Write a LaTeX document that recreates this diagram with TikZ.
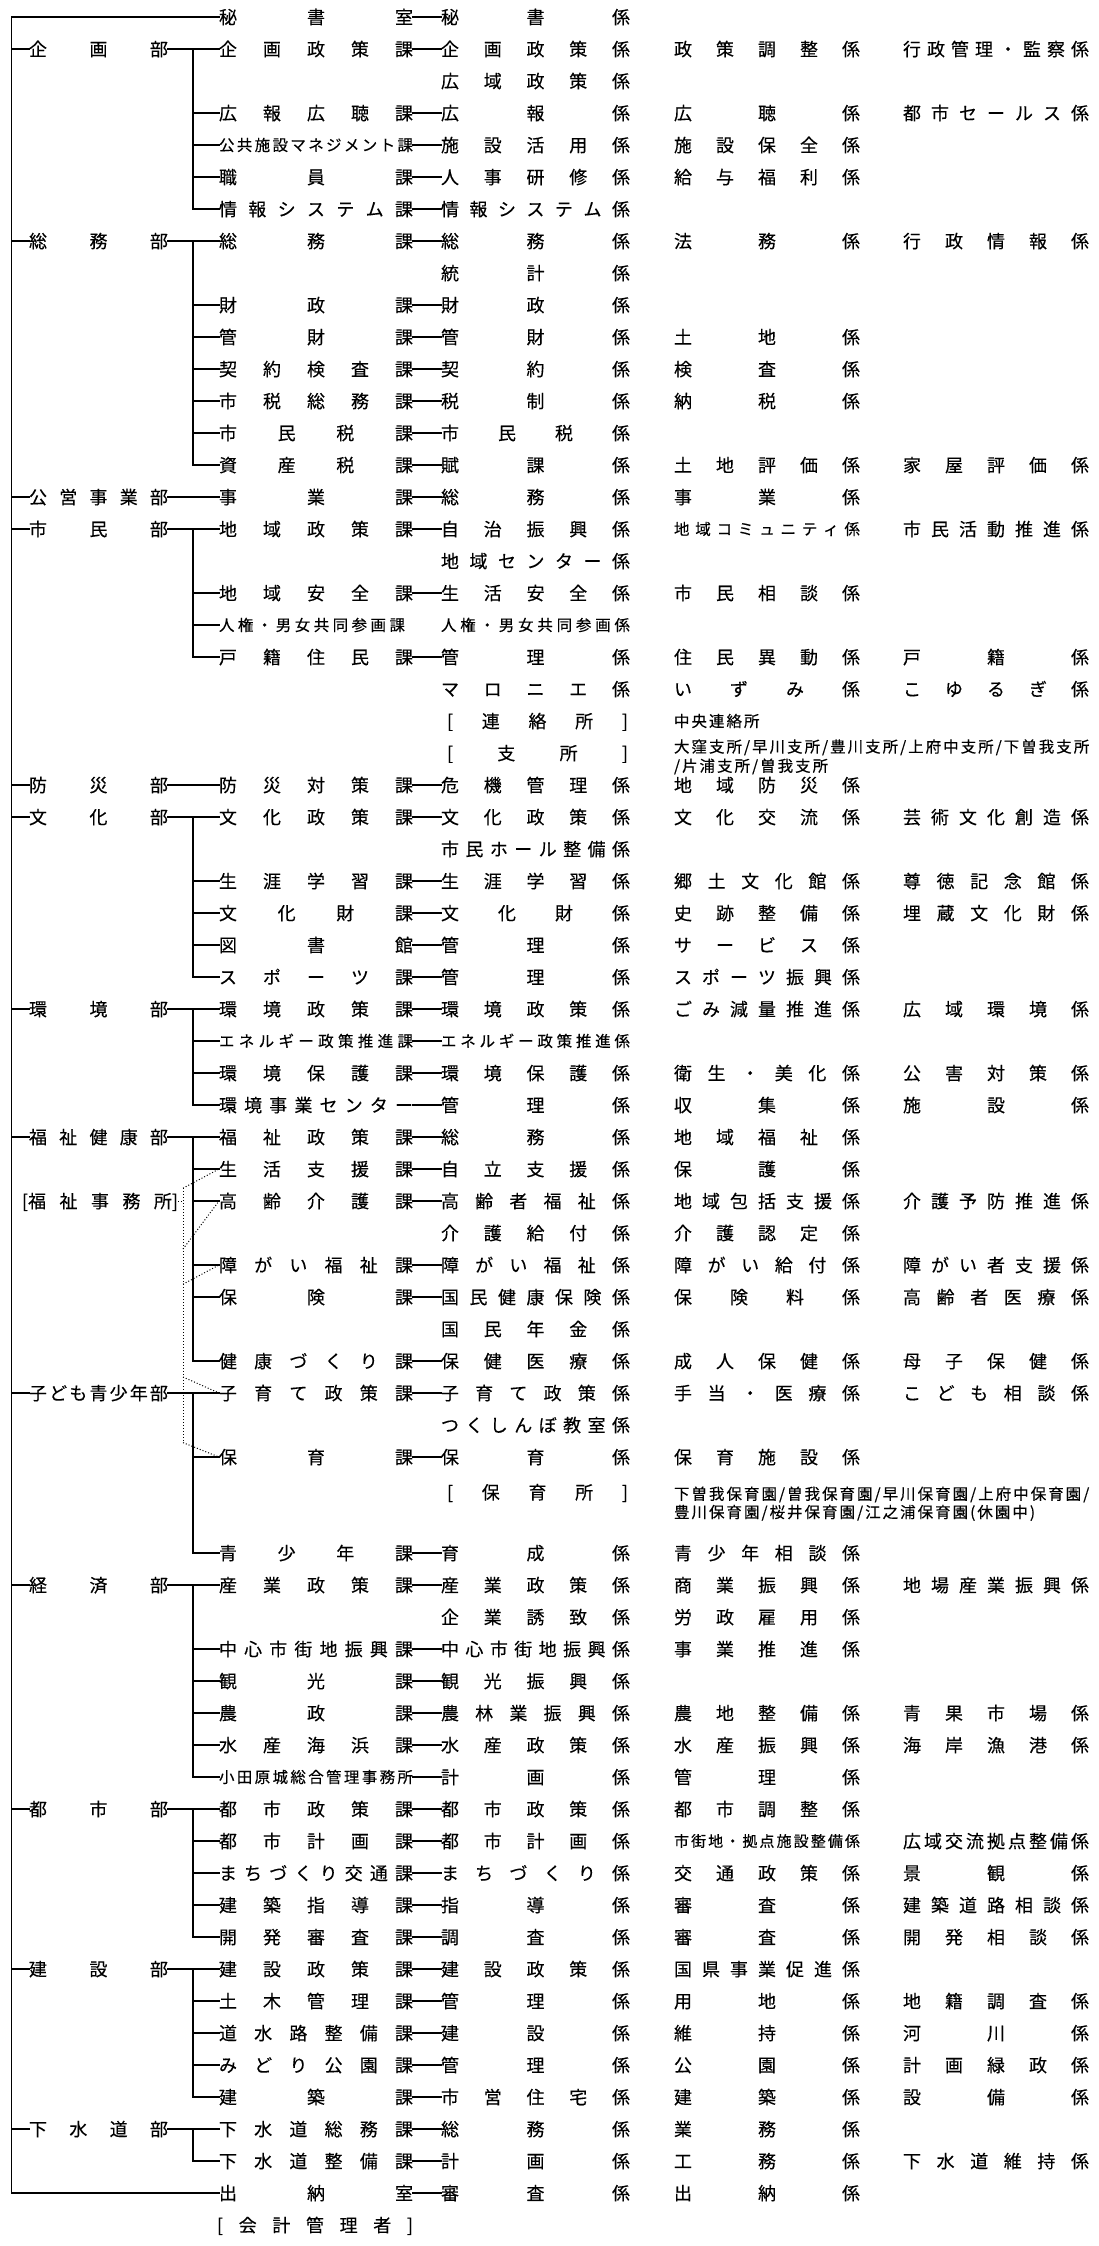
\documentclass[tikz,border=0pt]{standalone}
\usepackage{fontspec}
\setmainfont[FakeBold=0.3]{Noto Sans CJK JP}

\newcommand\fs[1]{\fontsize{#1}{#1}\selectfont}

% spread the letters of a name over a fixed width, or track them by a gap
\ExplSyntaxOn
\bool_new:N \l_org_first_bool
\tl_new:N \l_org_text_tl
\cs_new_protected:Npn \org_spread:nn #1#2
  {
    \tl_set:Nx \l_org_text_tl {#2}
    \bool_set_true:N \l_org_first_bool
    \tl_map_inline:Nn \l_org_text_tl
      {
        \bool_if:NF \l_org_first_bool {#1}
        \bool_set_false:N \l_org_first_bool
        ##1
      }
  }
\NewDocumentCommand \jbox { m m } { \makebox[#1]{ \org_spread:nn { \hfill } {#2} } }
\NewDocumentCommand \jtrack { m m } { \org_spread:nn { \kern #1 } {#2} }
\ExplSyntaxOff

\begin{document}
\begin{tikzpicture}[x=1pt,y=-32pt,
    unit/.style={anchor=west,inner sep=0pt,outer sep=0pt,font=\fs{18},
                 text height=15.9pt,text depth=2.1pt},
    unitsm/.style={unit,font=\fs{15.5},text height=13.6pt,text depth=1.9pt},
    unitxs/.style={unit,font=\fs{15},text height=13.2pt,text depth=1.8pt},
    flow/.style={line width=1.35pt,line cap=rect,draw=black},
    office/.style={dotted,line width=1pt,draw=black}
  ]
    \useasboundingbox (0,-0.53125) rectangle (1098,69.65625);

    \coordinate (trunk) at (11.5,0);
    \coordinate (v) at (193,0);

    % departments
    \foreach \k/\lbl in {1/企画部,7/総務部,15/公営事業部,16/市民部,24/防災部,
        25/文化部,31/環境部,35/福祉健康部,43/子ども青少年部,49/経済部,
        56/都市部,61/建設部,66/下水道部}
      \node[unit] (d\k) at (29,\k) {\jbox{139pt}{\lbl}};
    \node[unit] (fuku) at (22,37)
      {\makebox[156pt]{[福\hfill 祉\hfill 事\hfill 務\hfill 所]}};

    % sections
    \foreach \k/\lbl in {0/秘書室,1/企画政策課,3/広報広聴課,5/職員課,
        6/情報システム課,7/総務課,9/財政課,10/管財課,11/契約検査課,
        12/市税総務課,13/市民税課,14/資産税課,15/事業課,16/地域政策課,
        18/地域安全課,20/戸籍住民課,24/防災対策課,25/文化政策課,
        27/生涯学習課,28/文化財課,29/図書館,30/スポーツ課,31/環境政策課,
        33/環境保護課,34/環境事業センター,35/福祉政策課,36/生活支援課,
        37/高齢介護課,39/障がい福祉課,40/保険課,42/健康づくり課,
        43/子育て政策課,45/保育課,48/青少年課,49/産業政策課,
        51/中心市街地振興課,52/観光課,53/農政課,54/水産海浜課,
        56/都市政策課,57/都市計画課,58/まちづくり交通課,59/建築指導課,
        60/開発審査課,61/建設政策課,62/土木管理課,63/道水路整備課,
        64/みどり公園課,65/建築課,66/下水道総務課,67/下水道整備課,68/出納室}
      \node[unit] (s\k) at (219,\k) {\jbox{194pt}{\lbl}};
    \node[unitsm] (s4) at (219,4) {\jbox{194pt}{公共施設マネジメント課}};
    \node[unitsm] (s19) at (219,19) {\jbox{186pt}{人権・男女共同参画課}};
    \node[unitsm] (s32) at (219,32) {\jbox{194pt}{エネルギー政策推進課}};
    \node[unitsm] (s55) at (219,55) {\jbox{194pt}{小田原城総合管理事務所}};
    \node[unit] (s69) at (217,69) {\jbox{196pt}{[会計管理者]}};

    % first column of kakari
    \foreach \k/\lbl in {0/秘書係,1/企画政策係,2/広域政策係,3/広報係,
        4/施設活用係,5/人事研修係,6/情報システム係,7/総務係,8/統計係,
        9/財政係,10/管財係,11/契約係,12/税制係,13/市民税係,14/賦課係,
        15/総務係,16/自治振興係,17/地域センター係,18/生活安全係,20/管理係,
        21/マロニエ係,24/危機管理係,25/文化政策係,26/市民ホール整備係,
        27/生涯学習係,28/文化財係,29/管理係,30/管理係,31/環境政策係,
        33/環境保護係,34/管理係,35/総務係,36/自立支援係,37/高齢者福祉係,
        38/介護給付係,39/障がい福祉係,40/国民健康保険係,41/国民年金係,
        42/保健医療係,43/子育て政策係,44/つくしんぼ教室係,45/保育係,
        48/育成係,49/産業政策係,50/企業誘致係,51/中心市街地振興係,
        52/観光振興係,53/農林業振興係,54/水産政策係,55/計画係,
        56/都市政策係,57/都市計画係,58/まちづくり係,59/指導係,60/調査係,
        61/建設政策係,62/管理係,63/建設係,64/管理係,65/市営住宅係,
        66/総務係,67/計画係,68/審査係}
      \node[unit] (a\k) at (441,\k) {\jbox{189pt}{\lbl}};
    \node[unitsm] (a19) at (441,19) {\jbox{189pt}{人権・男女共同参画係}};
    \node[unitsm] (a32) at (441,32) {\jbox{189pt}{エネルギー政策推進係}};
    \node[unit] (a22) at (447,22) {\jbox{181pt}{[連絡所]}};
    \node[unit] (a23) at (447,23) {\jbox{181pt}{[支所]}};
    \node[unit] (a46) at (447,46.1) {\jbox{181pt}{[保育所]}};

    % second column
    \foreach \k/\lbl in {1/政策調整係,3/広聴係,4/施設保全係,5/給与福利係,
        7/法務係,10/土地係,11/検査係,12/納税係,14/土地評価係,15/事業係,
        18/市民相談係,20/住民異動係,21/いずみ係,24/地域防災係,25/文化交流係,
        27/郷土文化館係,28/史跡整備係,29/サービス係,30/スポーツ振興係,
        31/ごみ減量推進係,33/衛生・美化係,34/収集係,35/地域福祉係,36/保護係,
        37/地域包括支援係,38/介護認定係,39/障がい給付係,40/保険料係,
        42/成人保健係,43/手当・医療係,45/保育施設係,48/青少年相談係,
        49/商業振興係,50/労政雇用係,51/事業推進係,53/農地整備係,
        54/水産振興係,55/管理係,56/都市調整係,58/交通政策係,59/審査係,
        60/審査係,61/国県事業促進係,62/用地係,63/維持係,64/公園係,
        65/建築係,66/業務係,67/工務係,68/出納係}
      \node[unit] (b\k) at (674,\k) {\jbox{186pt}{\lbl}};
    \node[unitsm] (b16) at (674,16) {\jbox{186pt}{地域コミュニティ係}};
    \node[unitxs] (b57) at (674,57) {\jbox{186pt}{市街地・拠点施設整備係}};
    \node[unitsm] (b22) at (674,22) {\jtrack{2pt}{中央連絡所}};
    \node[unitsm] (b23) at (674,22.8)
      {\jtrack{2pt}{大窪支所/早川支所/豊川支所/上府中支所/下曽我支所}};
    \node[unitsm] (b23x) at (674,23.4) {\jtrack{2pt}{/片浦支所/曽我支所}};
    \node[unitsm] (b46) at (674,46.15)
      {\jtrack{2pt}{下曽我保育園/曽我保育園/早川保育園/上府中保育園/}};
    \node[unitsm] (b46x) at (674,46.72)
      {\jtrack{2pt}{豊川保育園/桜井保育園/江之浦保育園(休園中)}};

    % third column
    \foreach \k/\lbl in {1/行政管理・監察係,3/都市セールス係,7/行政情報係,
        14/家屋評価係,16/市民活動推進係,20/戸籍係,21/こゆるぎ係,
        25/芸術文化創造係,27/尊徳記念館係,28/埋蔵文化財係,31/広域環境係,
        33/公害対策係,34/施設係,37/介護予防推進係,39/障がい者支援係,
        40/高齢者医療係,42/母子保健係,43/こども相談係,49/地場産業振興係,
        53/青果市場係,54/海岸漁港係,57/広域交流拠点整備係,58/景観係,
        59/建築道路相談係,60/開発相談係,62/地籍調査係,63/河川係,
        64/計画緑政係,65/設備係,67/下水道維持係}
      \node[unit] (c\k) at (903,\k) {\jbox{186pt}{\lbl}};

    % trunk
    \draw[flow] (s0.west) -- (trunk |- s0.west) -- (trunk |- s68.west) -- (s68.west);
    \foreach \k in {1,7,15,16,24,25,31,35,43,49,56,61,66} {
      \draw[flow] (trunk |- d\k.west) -- (d\k.west);
      \draw[flow] (d\k.east) -- (s\k.west);
    }

    % section branches
    \foreach \p/\q in {1/6,7/14,16/20,25/30,31/34,35/42,43/48,49/55,56/60,61/65,66/67}
      \draw[flow] (v |- s\p.west) -- (v |- s\q.west);
    \foreach \k in {3,4,5,6,9,10,11,12,13,14,18,19,20,27,28,29,30,32,33,34,
        36,37,39,40,42,45,48,51,52,53,54,55,57,58,59,60,62,63,64,65,67}
      \draw[flow] (v |- s\k.west) -- (s\k.west);

    % section to kakari
    \foreach \k in {0,1,3,4,5,6,7,9,10,11,12,13,14,15,16,18,20,24,25,27,28,29,
        30,31,32,33,34,35,36,37,39,40,42,43,45,48,49,51,52,53,54,55,56,57,58,
        59,60,61,62,63,64,65,66,67,68}
      \draw[flow] (s\k.east) -- (a\k.west);

    % welfare office
    \coordinate (f36) at (183,36.6);
    \coordinate (f37) at (183,38.5);
    \coordinate (f39) at (183,39.6);
    \coordinate (f43) at (183,42.5);
    \coordinate (f45) at (183,44.55);
    \draw[office] (fuku.east) -- (fuku.east -| f36);
    \draw[office] (f36) -- (f45);
    \draw[office] (f36) -- (s36.west);
    \draw[office] (f37) -- (s37.west);
    \draw[office] (f39) -- (s39.west);
    \draw[office] (f43) -- (s43.west);
    \draw[office] (f45) -- (s45.west);
  \end{tikzpicture}
\end{document}
